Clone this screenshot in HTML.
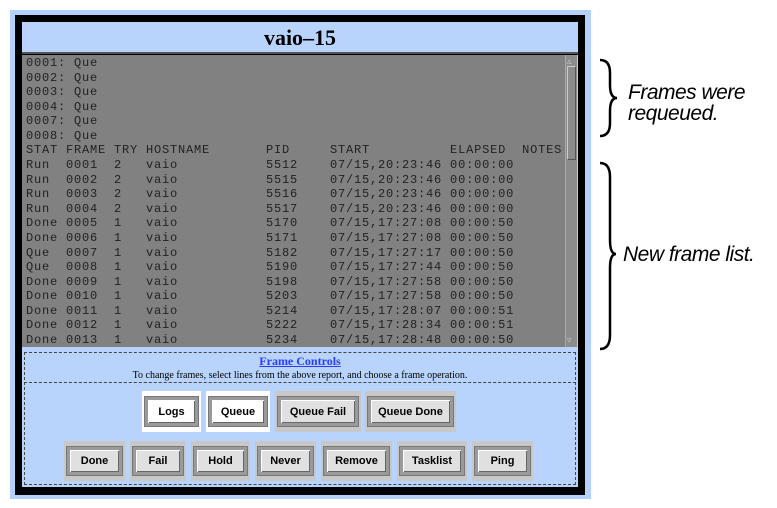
<!DOCTYPE html>
<html><head><style>
*{margin:0;padding:0;box-sizing:border-box}
body{width:777px;height:508px;background:#fff;position:relative;overflow:hidden;font-family:"Liberation Sans",sans-serif}
.a{position:absolute}
pre{font-family:"Liberation Mono","DejaVu Sans Mono",monospace;font-size:12px;letter-spacing:0.8px;line-height:14.58px;color:#222}
.cell{position:absolute;background:#c8c8c8}
.cell.w{background:#fff}
.btn{position:absolute;left:3px;right:3px;top:6px;bottom:6px;border:3px solid #9a9a9a;outline:1px solid #777;background:#e0e0e0;font:bold 11px "Liberation Sans",sans-serif;color:#000;display:flex;align-items:center;justify-content:center;box-shadow:inset 1px 1px 0 #fff,inset -1px -1px 0 #666}
.w .btn{background:#fff}
.ann{font-style:italic;font-size:21px;color:#000;line-height:21px}
</style></head><body>
<div class="a" style="left:10px;top:10px;width:581px;height:489px;background:#b3d1fc"></div>
<div class="a" style="left:15px;top:15px;width:570px;height:480px;background:#000"></div>
<div class="a" style="left:22px;top:22px;width:556px;height:32px;background:#b8d4fc;border-bottom:2px solid #555"></div>
<div class="a" style="left:22px;top:25px;width:556px;text-align:center;font:bold 22px 'Liberation Serif',serif">vaio–15</div>
<div class="a" style="left:22px;top:55px;width:556px;height:292px;background:#818181"></div>
<div class="a" style="left:565px;top:55px;width:13px;height:292px;background:#8c8c8c;border-left:1px solid #aaa;border-right:1px solid #ccc"></div>
<div class="a" style="left:567px;top:66px;width:9px;height:94px;border:1px solid #ccc;border-right-color:#555;border-bottom-color:#555"></div>
<div class="a" style="left:567px;top:56px;font-size:9px;color:#ccc">▵</div>
<div class="a" style="left:567px;top:335px;font-size:9px;color:#ccc">▿</div>
<pre class="a" style="left:26px;top:56px">0001: Que
0002: Que
0003: Que
0004: Que
0007: Que
0008: Que
STAT FRAME TRY HOSTNAME       PID     START          ELAPSED  NOTES
Run  0001  2   vaio           5512    07/15,20:23:46 00:00:00
Run  0002  2   vaio           5515    07/15,20:23:46 00:00:00
Run  0003  2   vaio           5516    07/15,20:23:46 00:00:00
Run  0004  2   vaio           5517    07/15,20:23:46 00:00:00
Done 0005  1   vaio           5170    07/15,17:27:08 00:00:50
Done 0006  1   vaio           5171    07/15,17:27:08 00:00:50
Que  0007  1   vaio           5182    07/15,17:27:17 00:00:50
Que  0008  1   vaio           5190    07/15,17:27:44 00:00:50
Done 0009  1   vaio           5198    07/15,17:27:58 00:00:50
Done 0010  1   vaio           5203    07/15,17:27:58 00:00:50
Done 0011  1   vaio           5214    07/15,17:28:07 00:00:51
Done 0012  1   vaio           5222    07/15,17:28:34 00:00:51
Done 0013  1   vaio           5234    07/15,17:28:48 00:00:50</pre>
<div class="a" style="left:22px;top:347px;width:556px;height:140px;background:#b8d4fc"></div>
<div class="a" style="left:24px;top:352px;width:552px;height:133px;border:1px dashed #444"></div>
<div class="a" style="left:24px;top:382px;width:552px;border-top:1px dashed #444"></div>
<div class="a" style="left:22px;top:354px;width:556px;text-align:center;font:bold 12px 'Liberation Serif',serif;color:#2a3cff;text-decoration:underline">Frame Controls</div>
<div class="a" style="left:22px;top:370px;width:556px;text-align:center;font:10px 'Liberation Serif',serif;color:#000">To change frames, select lines from the above report, and choose a frame operation.</div>
<div class="cell w" style="left:142px;top:391px;width:59px;height:41px"><div class="btn">Logs</div></div>
<div class="cell w" style="left:206px;top:391px;width:64px;height:41px"><div class="btn">Queue</div></div>
<div class="cell" style="left:275px;top:391px;width:86px;height:41px"><div class="btn">Queue Fail</div></div>
<div class="cell" style="left:365px;top:391px;width:91px;height:41px"><div class="btn">Queue Done</div></div>
<div class="cell" style="left:64px;top:441px;width:61px;height:40px"><div class="btn">Done</div></div>
<div class="cell" style="left:130px;top:441px;width:56px;height:40px"><div class="btn">Fail</div></div>
<div class="cell" style="left:191px;top:441px;width:59px;height:40px"><div class="btn">Hold</div></div>
<div class="cell" style="left:255px;top:441px;width:61px;height:40px"><div class="btn">Never</div></div>
<div class="cell" style="left:321px;top:441px;width:71px;height:40px"><div class="btn">Remove</div></div>
<div class="cell" style="left:397px;top:441px;width:70px;height:40px"><div class="btn">Tasklist</div></div>
<div class="cell" style="left:472px;top:441px;width:61px;height:40px"><div class="btn">Ping</div></div>
<svg class="a" style="left:595px;top:55px" width="30" height="300" viewBox="0 0 30 300">
<path d="M5 5 Q15 5 15 18 L15 30 Q15 43 22 43 Q15 43 15 56 L15 68 Q15 81 5 81" fill="none" stroke="#000" stroke-width="2.5"/>
<path d="M5 108 Q15 108 15 122 L15 185 Q15 199 21 199 Q15 199 15 213 L15 280 Q15 294 5 294" fill="none" stroke="#000" stroke-width="2.5"/>
</svg>
<div class="a ann" style="left:628px;top:82px;letter-spacing:-0.5px">Frames were<br>requeued.</div>
<div class="a ann" style="left:623px;top:244px;letter-spacing:-0.5px">New frame list.</div>
</body></html>
